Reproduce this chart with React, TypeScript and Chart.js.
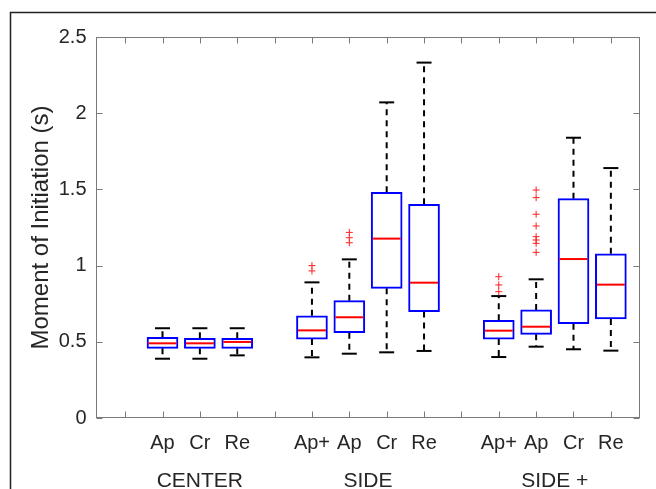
import React, { useEffect, useRef } from 'react';
import { Chart, registerables } from 'chart.js';

Chart.register(...registerables);

// x tick positions and their labels (positions 1, 5, 10 are empty spacers)
const tickPositions = [1, 2, 3, 4, 5, 6, 7, 8, 9, 10, 11, 12, 13, 14];
const tickLabels = ['', 'Ap', 'Cr', 'Re', '', 'Ap+', 'Ap', 'Cr', 'Re', '', 'Ap+', 'Ap', 'Cr', 'Re'];

// y ticks and labels
const yTickValues = [0, 0.5, 1, 1.5, 2, 2.5];
const yTickLabels = ['0', '0.5', '1', '1.5', '2', '2.5'];

// box positions
const boxPositions = [2, 3, 4, 6, 7, 8, 9, 11, 12, 13, 14];
const q1Values = [0.457, 0.457, 0.457, 0.518, 0.560, 0.851, 0.698, 0.518, 0.549, 0.619, 0.650];
const q3Values = [0.530, 0.523, 0.523, 0.671, 0.770, 1.481, 1.402, 0.641, 0.709, 1.439, 1.078];
const medianValues = [0.490, 0.490, 0.499, 0.575, 0.661, 1.177, 0.888, 0.573, 0.599, 1.043, 0.875];
const lowerWhiskers = [0.389, 0.389, 0.411, 0.398, 0.422, 0.431, 0.440, 0.400, 0.468, 0.451, 0.442];
const upperWhiskers = [0.589, 0.589, 0.589, 0.890, 1.041, 2.071, 2.332, 0.800, 0.910, 1.839, 1.640];
const outlierValues: number[][] = [
  [], [], [],
  [1.0, 0.965],
  [1.218, 1.183, 1.150],
  [], [],
  [0.927, 0.873, 0.829],
  [1.496, 1.446, 1.337, 1.260, 1.190, 1.168, 1.146, 1.087],
  [], [],
];

// group labels
const groupLabels = ['CENTER', 'SIDE', 'SIDE +'];
const groupCenters = [3, 7.5, 12.5];

const yTitle = 'Moment of Initiation (s)';
const FONT = "'Liberation Sans', Arial, Helvetica, sans-serif";
const TEXT = '#262626';
const AXIS = '#7a7a7a';

const framePlugin = {
  id: 'matlabFrame',
  afterDraw(chart: any) {
    const { ctx, chartArea } = chart;
    const xs = chart.scales.x;
    const ys = chart.scales.y;
    const l = Math.round(chartArea.left) + 0.5;
    const r = Math.round(chartArea.right) - 0.5;
    const t = Math.round(chartArea.top) + 0.5;
    const b = Math.round(chartArea.bottom) - 0.5;
    ctx.save();
    // outer figure frame
    ctx.strokeStyle = '#222';
    ctx.lineWidth = 1.5;
    ctx.strokeRect(10.5, 12.5, 800, 800);
    // axes box
    ctx.strokeStyle = AXIS;
    ctx.lineWidth = 1;
    ctx.strokeRect(l, t, r - l, b - t);
    // inward ticks
    const tl = 6;
    ctx.beginPath();
    xs.ticks.forEach((tk: any) => {
      const px = Math.round(xs.getPixelForValue(tk.value)) + 0.5;
      ctx.moveTo(px, b);
      ctx.lineTo(px, b - tl);
      ctx.moveTo(px, t);
      ctx.lineTo(px, t + tl);
    });
    ys.ticks.forEach((tk: any) => {
      const py = Math.round(ys.getPixelForValue(tk.value)) + 0.5;
      ctx.moveTo(l, py);
      ctx.lineTo(l + tl, py);
      ctx.moveTo(r, py);
      ctx.lineTo(r - tl, py);
    });
    ctx.stroke();
    // group labels
    ctx.fillStyle = TEXT;
    ctx.font = `21px ${FONT}`;
    ctx.textAlign = 'center';
    ctx.textBaseline = 'alphabetic';
    groupLabels.forEach((g, i) => {
      ctx.fillText(g, xs.getPixelForValue(groupCenters[i]), 487);
    });
    ctx.restore();
  },
};

export default function App() {
  const ref = useRef<HTMLCanvasElement | null>(null);

  useEffect(() => {
    document.body.style.margin = '0';
    const canvas = ref.current;
    if (!canvas) return;

    const whiskerData: any[] = [];
    const capData: any[] = [];
    boxPositions.forEach((x, i) => {
      whiskerData.push({ x, y: q3Values[i] }, { x, y: upperWhiskers[i] }, { x, y: null });
      whiskerData.push({ x, y: q1Values[i] }, { x, y: lowerWhiskers[i] }, { x, y: null });
      capData.push({ x, y: upperWhiskers[i] }, { x, y: lowerWhiskers[i] });
    });
    const outlierData: any[] = [];
    boxPositions.forEach((x, i) => {
      outlierValues[i].forEach((v) => outlierData.push({ x, y: v }));
    });

    const chart = new Chart(canvas, {
      type: 'bar',
      data: {
        datasets: [
          {
            type: 'line',
            data: whiskerData,
            borderColor: '#000',
            borderWidth: 2,
            borderDash: [6, 5],
            pointRadius: 0,
            spanGaps: false,
            fill: false,
            order: 4,
          } as any,
          {
            type: 'bar',
            data: boxPositions.map((x, i) => ({ x, y: [q1Values[i], q3Values[i]] })),
            backgroundColor: '#ffffff',
            borderColor: '#0000ff',
            borderWidth: 2,
            borderSkipped: false,
            barThickness: 31,
            order: 3,
          } as any,
          {
            type: 'scatter',
            data: capData,
            pointStyle: 'line',
            pointRadius: 7.5,
            borderColor: '#000',
            borderWidth: 2,
            order: 2,
          } as any,
          {
            type: 'scatter',
            data: boxPositions.map((x, i) => ({ x, y: medianValues[i] })),
            pointStyle: 'line',
            pointRadius: 14,
            borderColor: '#ff0000',
            borderWidth: 2,
            order: 1,
          } as any,
          {
            type: 'scatter',
            data: outlierData,
            pointStyle: 'cross',
            pointRadius: 3.5,
            borderColor: '#ff2020',
            borderWidth: 1,
            order: 0,
          } as any,
        ],
      },
      options: {
        responsive: false,
        animation: false,
        devicePixelRatio: 1,
        layout: { padding: { left: 0, top: 37, right: 10, bottom: 0 } },
        plugins: { legend: { display: false }, tooltip: { enabled: false } },
        scales: {
          x: {
            type: 'linear',
            min: 0.22,
            max: 14.78,
            offset: false,
            grid: { display: false, drawTicks: false },
            border: { display: false },
            afterBuildTicks: (s: any) => {
              s.ticks = tickPositions.map((v) => ({ value: v }));
            },
            afterFit: (s: any) => {
              s.height = 71;
            },
            ticks: {
              autoSkip: false,
              maxRotation: 0,
              minRotation: 0,
              padding: 13,
              color: TEXT,
              font: { family: FONT, size: 20 },
              callback: (v: any) => {
                const idx = tickPositions.indexOf(Number(v));
                return idx >= 0 ? tickLabels[idx] : '';
              },
            },
          },
          y: {
            type: 'linear',
            min: 0,
            max: 2.5,
            grid: { display: false, drawTicks: false },
            border: { display: false },
            afterBuildTicks: (s: any) => {
              s.ticks = yTickValues.map((v) => ({ value: v }));
            },
            afterFit: (s: any) => {
              s.width = 96;
            },
            ticks: {
              padding: 9.5,
              color: TEXT,
              font: { family: FONT, size: 20 },
              callback: (v: any) => {
                const idx = yTickValues.indexOf(Number(v));
                return idx >= 0 ? yTickLabels[idx] : '';
              },
            },
            title: {
              display: true,
              text: yTitle,
              color: TEXT,
              font: { family: FONT, size: 24 },
              padding: { top: 26.5, bottom: 0 },
            },
          },
        },
      } as any,
      plugins: [framePlugin],
    });

    return () => chart.destroy();
  }, []);

  return (
    <div style={{ width: 656, height: 489, background: '#fff' }}>
      <canvas ref={ref} width={656} height={489} style={{ display: 'block' }} />
    </div>
  );
}
